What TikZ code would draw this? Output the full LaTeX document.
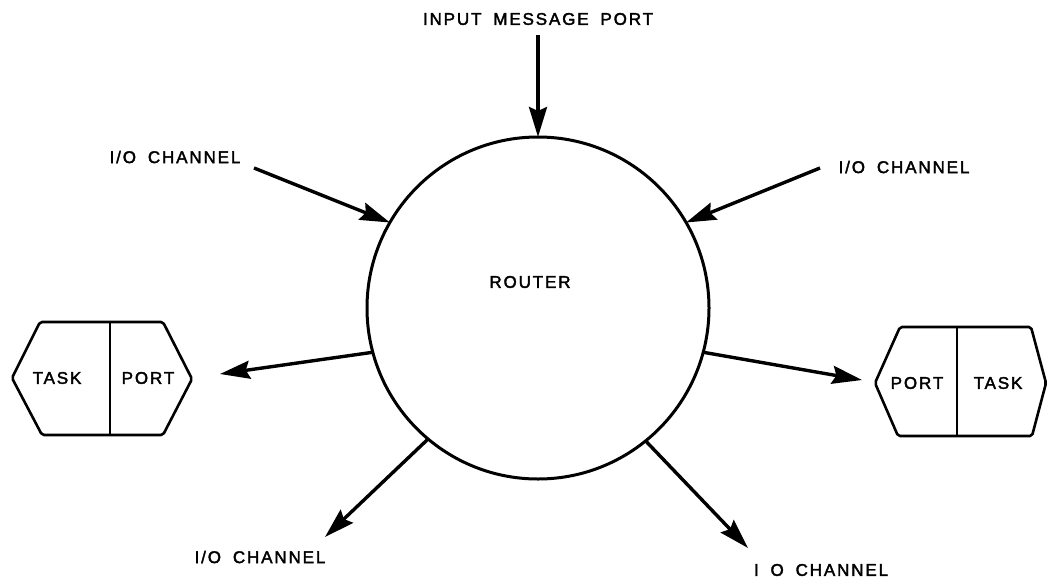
\documentclass[tikz,border=0pt]{standalone}
\usepackage{fontspec}
\setmainfont{Liberation Sans}[LetterSpace=11,WordSpace=1.8,FakeBold=2.2]
\usetikzlibrary{arrows.meta}
\begin{document}
\begin{tikzpicture}[x=1pt,y=-1pt,
  lbl/.style={font=\fontsize{17}{19}\selectfont, inner sep=0pt},
  flow/.style={line width=3.4pt, -{Stealth[length=30pt,width=18pt,inset=4pt]}},
  shell/.style={line width=2.6pt, rounded corners=2pt, line join=round},
  divider/.style={line width=2.2pt}]
\useasboundingbox (0,0) rectangle (1048,581);

% central router
\node[circle, draw, line width=3pt, minimum size=342pt, inner sep=0pt, outer sep=0pt] (router) at (538,308) {};
\node[lbl] (rlabel) at (530,282) {ROUTER};

% incoming message port
\node[lbl] (inport) at (538,19) {INPUT MESSAGE PORT};
\coordinate (inportend) at (538,35);
\draw[flow] (inportend) -- (router.north);

% upper I/O channels (inputs)
\node[lbl] (iotl) at (175,157) {I/O CHANNEL};
\coordinate (iotlend) at (254,168);
\draw[flow] (iotlend) -- (router.150);

\node[lbl] (iotr) at (904,167) {I/O CHANNEL};
\coordinate (iotrend) at (820,168);
\draw[flow] (iotrend) -- (router.30);

% lower I/O channels (outputs)
\node[lbl] (iobl) at (260,557) {I/O CHANNEL};
\coordinate (ioblend) at (325,537);
\draw[flow] (router.230) -- (ioblend);

\node[lbl] (iobr) at (821,570) {I O CHANNEL};
\coordinate (iobrend) at (748,548);
\draw[flow] (router.-51) -- (iobrend);

% left task/port hexagon
\draw[shell] (12,378) -- (40,322) -- (163,322) -- (192,379) -- (163,435) -- (42,435) -- cycle;
\draw[divider] (110,322) -- (110,435);
\node[lbl] (ltask) at (57,378) {TASK};
\node[lbl] (lport) at (148,378) {PORT};
\coordinate (lportend) at (220,374);
\draw[flow] (router.195) -- (lportend);

% right task/port hexagon
\draw[shell] (875,383) -- (900,327) -- (1031,327) -- (1046,383) -- (1032,436) -- (898,436) -- cycle;
\draw[divider] (957,327) -- (957,436);
\node[lbl] (rport) at (917,383) {PORT};
\node[lbl] (rtask) at (998,383) {TASK};
\coordinate (rportend) at (862,380);
\draw[flow] (router.-15) -- (rportend);
\end{tikzpicture}
\end{document}
